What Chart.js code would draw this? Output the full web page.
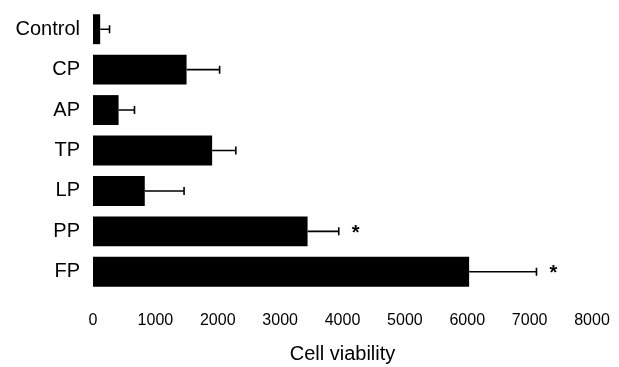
<!DOCTYPE html>
<html>
<head>
<meta charset="utf-8">
<script src="https://cdn.jsdelivr.net/npm/chart.js@4"></script>
<style>
  html, body { margin: 0; padding: 0; background: #fff; }
  #wrap { width: 619px; height: 367px; position: relative; }
</style>
</head>
<body>
<div id="wrap"><canvas id="c"></canvas></div>
<script>
const categories = ['Control', 'CP', 'AP', 'TP', 'LP', 'PP', 'FP'];
const viability = [115, 1500, 410, 1910, 830, 3440, 6030];
const errors = [150, 530, 255, 380, 630, 500, 1080];
const significance = ['', '', '', '', '', '*', '*'];
const xTicks = [0, 1000, 2000, 3000, 4000, 5000, 6000, 7000, 8000];

const errorBarPlugin = {
  id: 'errorBars',
  afterDatasetsDraw(chart) {
    const ctx = chart.ctx;
    const xs = chart.scales.x, ys = chart.scales.y;
    ctx.save();
    ctx.strokeStyle = '#000';
    ctx.lineWidth = 1.6;
    ctx.fillStyle = '#000';
    ctx.font = 'bold 20px "Liberation Sans", Arial, sans-serif';
    ctx.textAlign = 'center';
    ctx.textBaseline = 'middle';
    viability.forEach((v, i) => {
      const y = ys.getPixelForValue(i);
      const x0 = xs.getPixelForValue(v);
      const x1 = xs.getPixelForValue(v + errors[i]);
      ctx.beginPath();
      ctx.moveTo(x0, y);
      ctx.lineTo(x1, y);
      ctx.moveTo(x1, y - 4);
      ctx.lineTo(x1, y + 4);
      ctx.stroke();
      if (significance[i]) {
        ctx.fillText(significance[i], x1 + 17, y + 2);
      }
    });
    ctx.restore();
  }
};

new Chart(document.getElementById('c'), {
  type: 'bar',
  data: {
    labels: categories,
    datasets: [{
      data: viability,
      backgroundColor: '#000',
      borderWidth: 0,
      barPercentage: 0.74,
      categoryPercentage: 1.0
    }]
  },
  options: {
    indexAxis: 'y',
    responsive: true,
    maintainAspectRatio: false,
    animation: false,
    layout: { padding: { top: 9, right: 27, left: 0, bottom: 0 } },
    plugins: { legend: { display: false }, tooltip: { enabled: false } },
    scales: {
      x: {
        min: 0, max: 8000,
        afterBuildTicks(s) { s.ticks = xTicks.map(v => ({ value: v })); },
        afterFit(s) { s.height = 75; s.paddingLeft = 0; s.paddingRight = 0; },
        grid: { display: false, drawTicks: false },
        border: { display: false },
        ticks: {
          color: '#000', padding: 19, maxRotation: 0,
          callback: (v) => String(v),
          font: { size: 16, family: '"Liberation Sans", Arial, sans-serif' }
        },
        title: {
          display: true, text: 'Cell viability', color: '#000',
          padding: { top: 0, bottom: 1 },
          font: { size: 20, family: '"Liberation Sans", Arial, sans-serif' }
        }
      },
      y: {
        afterFit(s) { s.width = 93; s.paddingTop = 0; s.paddingBottom = 0; },
        grid: { display: false, drawTicks: false },
        border: { display: false },
        ticks: {
          color: '#000', padding: 13,
          font: { size: 20, family: '"Liberation Sans", Arial, sans-serif' }
        }
      }
    }
  },
  plugins: [errorBarPlugin]
});
</script>
</body>
</html>
